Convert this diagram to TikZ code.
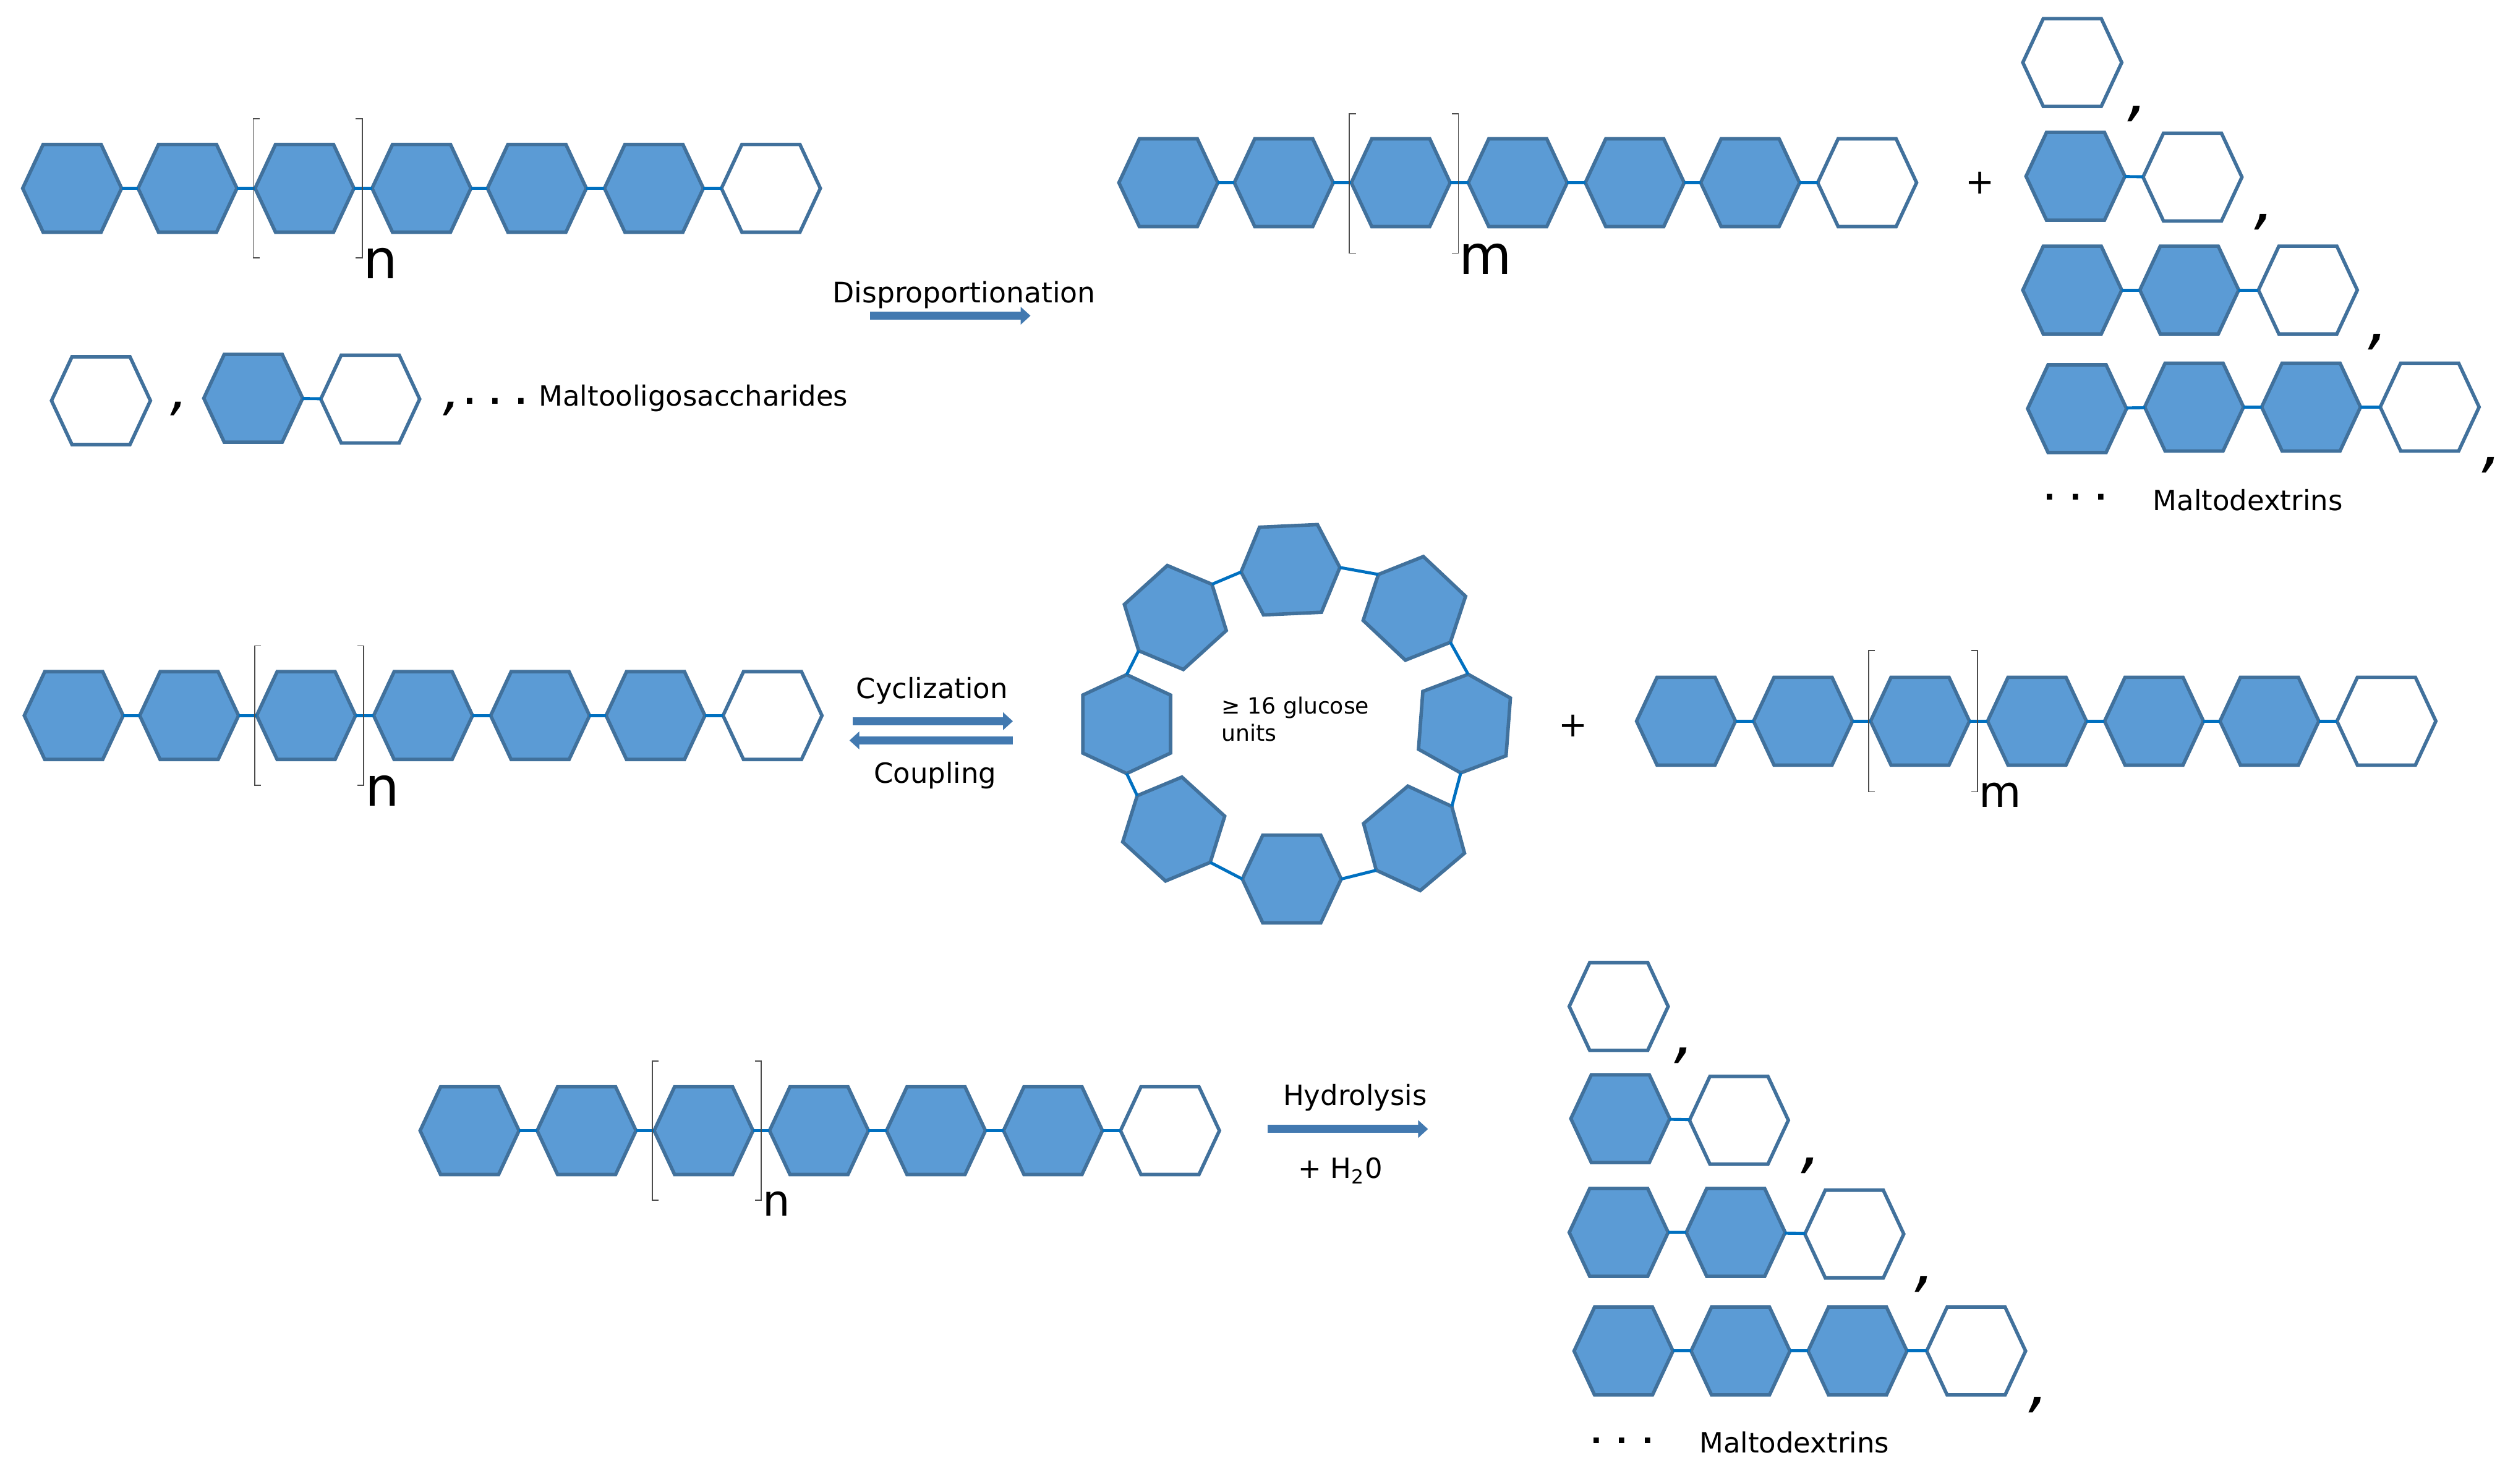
\documentclass[tikz,border=0pt]{standalone}
\usepackage{fontspec}
\setmainfont{DejaVu Sans}
\usetikzlibrary{shapes.symbols,arrows.meta}
\definecolor{glufill}{HTML}{5B9BD5}
\definecolor{gluline}{HTML}{41719C}
\definecolor{linkblue}{HTML}{0070C0}
\definecolor{rxnblue}{HTML}{4279B0}
\tikzset{
	glu/.style={signal,signal to=east and west,signal pointer angle=130,minimum width=16mm,minimum height=14.2mm,inner sep=0pt,outer sep=0pt,draw=gluline,line width=1.6pt,fill=glufill},
	glw/.style={glu,fill=white},
	link/.style={draw=linkblue,line width=1.4pt},
	brack/.style={draw=black!70,line width=0.5pt},
	rxn/.style={draw=rxnblue,line width=1.3mm,-{Triangle[length=1.6mm,width=2.8mm]}},
	txt/.style={inner sep=0pt,font=\fontsize{12.8}{15}\selectfont},
	sub/.style={inner sep=0pt,font=\fontsize{25}{25}\selectfont},
	subs/.style={inner sep=0pt,font=\fontsize{20}{20}\selectfont},
	comma/.style={inner sep=0pt,font=\fontsize{30}{30}\selectfont\itshape},
	commas/.style={inner sep=0pt,font=\fontsize{26}{26}\selectfont\itshape},
	dots/.style={inner sep=0pt,font=\fontsize{14}{14}\selectfont\bfseries}
}
\begin{document}
\begin{tikzpicture}[x=0.02592cm,y=-0.02592cm]
	\useasboundingbox (0,0) rectangle (1568,925.93);
	% first chain
	\node[glu] (a1) at (45,117.5) {};
	\node[glu] (a2) at (117,117.5) {};
	\node[glu] (a3) at (190,117.5) {};
	\node[glu] (a4) at (263,117.5) {};
	\node[glu] (a5) at (335,117.5) {};
	\node[glu] (a6) at (408,117.5) {};
	\node[glw] (a7) at (481,117.5) {};
	\draw[link] (a1)--(a2) (a2)--(a3) (a3)--(a4) (a4)--(a5) (a5)--(a6) (a6)--(a7);
	\draw[brack] (162,74)--(158,74)--(158,161)--(162,161);
	\draw[brack] (222,74)--(226,74)--(226,161)--(222,161);
	\node[sub] (an) at (237.5,164.5) {n};
	% starting sugars
	\node[glw] (s1) at (63,250) {};
	\node[commas] (sc1) at (112,255) {,};
	\node[glu] (s2) at (158,248.5) {};
	\node[glw] (s3) at (231,249) {};
	\draw[link] (s2)--(s3);
	\node[commas] (sc2) at (282,255) {,};
	\node[dots] (sdots) at (309,250.5) {. . .};
	\node[txt,anchor=west] (smalt) at (336,248.5) {Maltooligosaccharides};
	% disproportionation
	\node[txt,font=\fontsize{13}{15}\selectfont] (dis) at (601.5,184) {Disproportionation};
	\coordinate (disa) at (543,197);
	\coordinate (disb) at (643,197);
	\draw[rxn] (disa)--(disb);
	% second chain
	\node[glu] (b1) at (729,114) {};
	\node[glu] (b2) at (801,114) {};
	\node[glu] (b3) at (874,114) {};
	\node[glu] (b4) at (947,114) {};
	\node[glu] (b5) at (1020,114) {};
	\node[glu] (b6) at (1092,114) {};
	\node[glw] (b7) at (1165,114) {};
	\draw[link] (b1)--(b2) (b2)--(b3) (b3)--(b4) (b4)--(b5) (b5)--(b6) (b6)--(b7);
	\draw[brack] (846,71)--(842,71)--(842,158)--(846,158);
	\draw[brack] (906,71)--(910,71)--(910,158)--(906,158);
	\node[sub] (bm) at (927,161.5) {m};
	\node[txt,font=\fontsize{16}{16}\selectfont] (bplus) at (1235.5,114) {+};
	% maltodextrins, top
	\node[glw] (p1) at (1293,39) {};
	\node[comma] (pc1) at (1334,71) {,};
	\node[glu] (p2) at (1295,110) {};
	\node[glw] (p3) at (1368,110.5) {};
	\draw[link] (p2)--(p3);
	\node[comma] (pc2) at (1413,138.5) {,};
	\node[glu] (p4) at (1293,181) {};
	\node[glu] (p5) at (1366,181) {};
	\node[glw] (p6) at (1440,181) {};
	\draw[link] (p4)--(p5) (p5)--(p6);
	\node[comma] (pc3) at (1484,213.5) {,};
	\node[glu] (p7) at (1296,255) {};
	\node[glu] (p8) at (1369,254) {};
	\node[glu] (p9) at (1442,254) {};
	\node[glw] (p10) at (1516,254) {};
	\draw[link] (p7)--(p8) (p8)--(p9) (p9)--(p10);
	\node[comma] (pc4) at (1555,290) {,};
	\node[dots] (pdots) at (1295,310) {. . .};
	\node[txt] (pmalt) at (1402.5,312) {Maltodextrins};
	% third chain
	\node[glu] (c1) at (46,446.5) {};
	\node[glu] (c2) at (118,446.5) {};
	\node[glu] (c3) at (191,446.5) {};
	\node[glu] (c4) at (264,446.5) {};
	\node[glu] (c5) at (337,446.5) {};
	\node[glu] (c6) at (409,446.5) {};
	\node[glw] (c7) at (482,446.5) {};
	\draw[link] (c1)--(c2) (c2)--(c3) (c3)--(c4) (c4)--(c5) (c5)--(c6) (c6)--(c7);
	\draw[brack] (163,403)--(159,403)--(159,490)--(163,490);
	\draw[brack] (223,403)--(227,403)--(227,490)--(223,490);
	\node[sub] (cn) at (238.5,493.5) {n};
	% cyclization and coupling
	\node[txt] (cyc) at (581.5,431) {Cyclization};
	\coordinate (cyca) at (532,450);
	\coordinate (cycb) at (632,450);
	\draw[rxn] (cyca)--(cycb);
	\coordinate (coua) at (632,462);
	\coordinate (coub) at (530,462);
	\draw[rxn] (coua)--(coub);
	\node[txt] (cou) at (583.5,484) {Coupling};
	% ring
	\node[glu,rotate=2.6] (r1) at (805.2,355.5) {};
	\node[glu,rotate=-43.3] (r2) at (882.5,379.6) {};
	\node[glu,rotate=-94.3] (r3) at (913.75,451.5) {};
	\node[glu,rotate=-139.8] (r4) at (882.3,523.1) {};
	\node[glu,rotate=180] (r5) at (806,548.5) {};
	\node[glu,rotate=137.6] (r6) at (732.35,517.3) {};
	\node[glu,rotate=90] (r7) at (703,451.8) {};
	\node[glu,rotate=42.2] (r8) at (733.35,385.3) {};
	\draw[link] (r1.east)--(r2.west) (r2.east)--(r3.west) (r3.east)--(r4.west) (r4.east)--(r5.west);
	\draw[link] (r5.east)--(r6.west) (r6.east)--(r7.west) (r7.east)--(r8.west) (r8.east)--(r1.west);
	\node[txt,anchor=north west,align=left,font=\fontsize{10.3}{12.7}\selectfont] (rtxt) at (762,434.5) {≥ 16 glucose\\units};
	\node[txt,font=\fontsize{16}{16}\selectfont] (dplus) at (981.5,453) {+};
	% fourth chain
	\node[glu] (d1) at (1052,450) {};
	\node[glu] (d2) at (1125,450) {};
	\node[glu] (d3) at (1198,450) {};
	\node[glu] (d4) at (1271,450) {};
	\node[glu] (d5) at (1344,450) {};
	\node[glu] (d6) at (1416,450) {};
	\node[glw] (d7) at (1489,450) {};
	\draw[link] (d1)--(d2) (d2)--(d3) (d3)--(d4) (d4)--(d5) (d5)--(d6) (d6)--(d7);
	\draw[brack] (1170,406)--(1166,406)--(1166,494)--(1170,494);
	\draw[brack] (1230,406)--(1234,406)--(1234,494)--(1230,494);
	\node[subs] (dm) at (1248,496) {m};
	% fifth chain
	\node[glu] (e1) at (293,705.5) {};
	\node[glu] (e2) at (366,705.5) {};
	\node[glu] (e3) at (439,705.5) {};
	\node[glu] (e4) at (511,705.5) {};
	\node[glu] (e5) at (584,705.5) {};
	\node[glu] (e6) at (657,705.5) {};
	\node[glw] (e7) at (730,705.5) {};
	\draw[link] (e1)--(e2) (e2)--(e3) (e3)--(e4) (e4)--(e5) (e5)--(e6) (e6)--(e7);
	\draw[brack] (411,662)--(407,662)--(407,749)--(411,749);
	\draw[brack] (471,662)--(475,662)--(475,749)--(471,749);
	\node[subs] (en) at (484.5,751) {n};
	% hydrolysis
	\node[txt] (hyd) at (845.5,685) {Hydrolysis};
	\coordinate (hyda) at (791,704.5);
	\coordinate (hydb) at (891,704.5);
	\draw[rxn] (hyda)--(hydb);
	\node[txt] (wat) at (836.5,730.5) {+ H\textsubscript{2}0};
	% maltodextrins, bottom
	\node[glw] (q1) at (1010,628) {};
	\node[comma] (qc1) at (1051,658.5) {,};
	\node[glu] (q2) at (1011,698) {};
	\node[glw] (q3) at (1085,699) {};
	\draw[link] (q2)--(q3);
	\node[comma] (qc2) at (1130,727.5) {,};
	\node[glu] (q4) at (1010,769) {};
	\node[glu] (q5) at (1083,769) {};
	\node[glw] (q6) at (1157,770) {};
	\draw[link] (q4)--(q5) (q5)--(q6);
	\node[comma] (qc3) at (1201,801.5) {,};
	\node[glu] (q7) at (1013,843) {};
	\node[glu] (q8) at (1086,843) {};
	\node[glu] (q9) at (1159,843) {};
	\node[glw] (q10) at (1233,843) {};
	\draw[link] (q7)--(q8) (q8)--(q9) (q9)--(q10);
	\node[comma] (qc4) at (1272,876.5) {,};
	\node[dots] (qdots) at (1012,899) {. . .};
	\node[txt] (qmalt) at (1119.5,900) {Maltodextrins};
\end{tikzpicture}
\end{document}
